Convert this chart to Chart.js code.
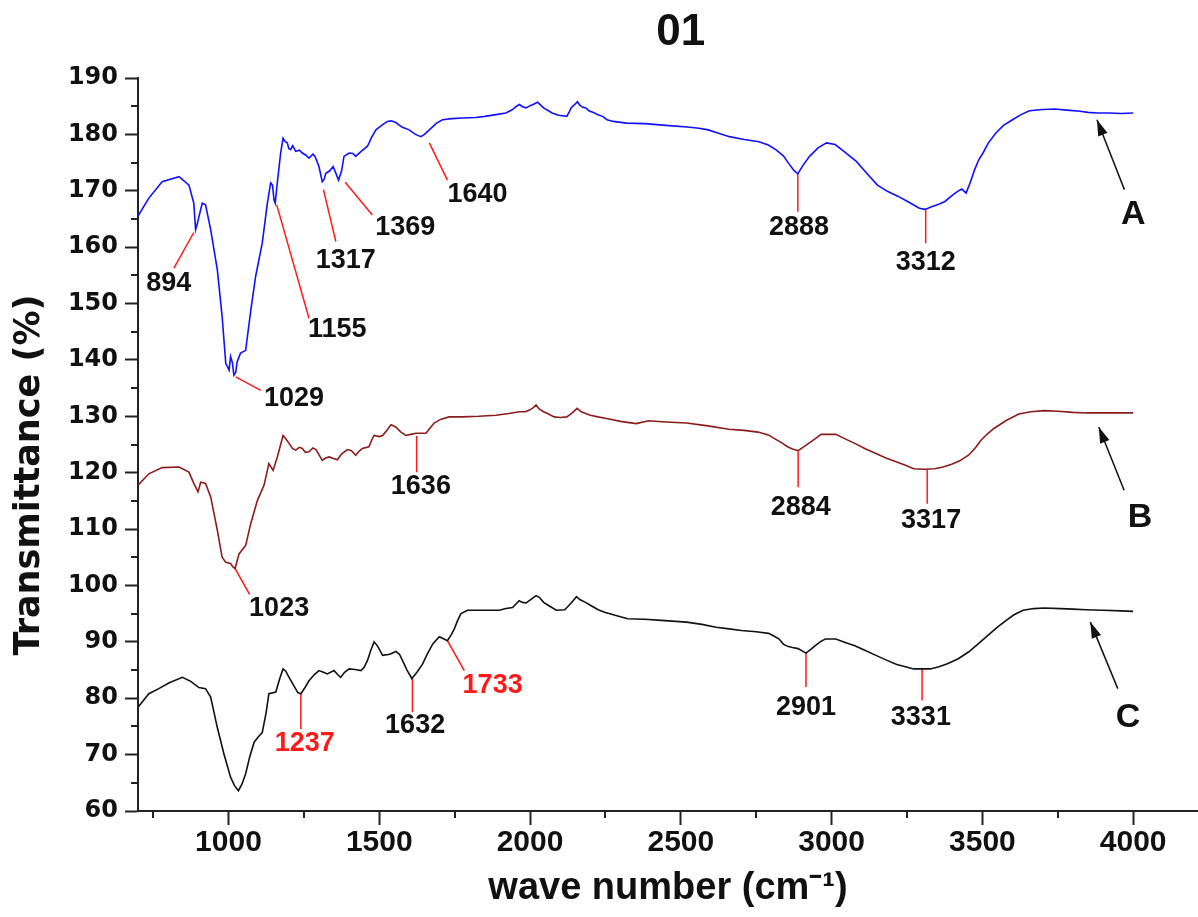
<!DOCTYPE html>
<html>
<head>
<meta charset="utf-8">
<script src="https://cdn.jsdelivr.net/npm/chart.js@4.4.1/dist/chart.umd.min.js"></script>
<style>
    html, body { margin: 0; padding: 0; background: #fff; }
    #Box { width: 1198px; height: 917px; }
</style>
</head>
<body>
<div id="Box"><canvas id="ChFTIR"></canvas></div>
<script>
// spectrum A (blue)
const WaveA = [700, 736, 780, 836, 869, 885, 891, 896, 902, 913, 924, 941, 963, 979, 991, 1002, 1007, 1013, 1018, 1024, 1029, 1040, 1057, 1074, 1090, 1112, 1129, 1140, 1146, 1151, 1155, 1162, 1173, 1181, 1188, 1195, 1200, 1206, 1213, 1223, 1235, 1245, 1257, 1267, 1280, 1287, 1300, 1311, 1317, 1323, 1335, 1347, 1357, 1365, 1375, 1383, 1400, 1413, 1422, 1440, 1461, 1475, 1489, 1510, 1527, 1540, 1555, 1575, 1599, 1620, 1638, 1650, 1666, 1690, 1710, 1740, 1776, 1820, 1850, 1887, 1920, 1942, 1955, 1965, 1975, 1987, 2000, 2010, 2025, 2035, 2045, 2064, 2073, 2095, 2122, 2130, 2136, 2150, 2157, 2165, 2175, 2185, 2195, 2210, 2225, 2241, 2255, 2276, 2320, 2381, 2450, 2521, 2560, 2591, 2620, 2661, 2710, 2759, 2790, 2815, 2840, 2857, 2875, 2888, 2905, 2927, 2955, 2983, 3012, 3045, 3082, 3115, 3152, 3185, 3221, 3255, 3291, 3310, 3334, 3355, 3376, 3398, 3418, 3432, 3446, 3460, 3474, 3488, 3502, 3520, 3544, 3570, 3600, 3628, 3656, 3700, 3740, 3780, 3824, 3850, 3880, 3920, 3960, 4000];
const TransA = [165.5, 168.7, 171.6, 172.5, 171, 167.8, 163.1, 164, 165.4, 167.8, 167.5, 163.1, 156, 147.7, 139.4, 138.2, 140.6, 139.5, 137.3, 137.8, 139.7, 141.2, 141.7, 148.8, 154.8, 160.7, 167.8, 171.4, 171, 168.4, 167.8, 171.4, 176.7, 179.3, 178.7, 178.5, 177.5, 177.3, 178, 177, 177.2, 176.7, 176.3, 175.8, 176.5, 176.1, 174.3, 171.6, 172, 173.1, 173.5, 174.3, 173, 171.9, 173.5, 176.1, 176.7, 176.6, 176.1, 177, 177.9, 179.5, 180.8, 181.7, 182.3, 182.4, 182.1, 181.3, 180.8, 180, 179.6, 180, 180.8, 182, 182.6, 182.8, 182.9, 183, 183.2, 183.5, 183.8, 184.4, 185, 185.3, 184.9, 184.7, 185.1, 185.3, 185.7, 185.2, 184.7, 184.1, 183.8, 183.4, 183.2, 184, 184.7, 185.4, 185.8, 185.2, 184.8, 184.7, 184.2, 183.9, 183.5, 183.2, 182.6, 182.3, 182, 181.9, 181.6, 181.3, 181.1, 180.8, 180.3, 179.6, 179.1, 178.7, 178.1, 177.3, 176.2, 174.9, 173.6, 173, 174.5, 176.1, 177.6, 178.5, 178.2, 176.8, 175.2, 173.2, 171, 169.9, 169, 168, 166.9, 166.7, 167.2, 167.6, 168.1, 169.1, 169.9, 170.3, 169.6, 171.5, 173.7, 175.5, 176.7, 178.5, 180.2, 181.6, 182.6, 183.5, 184.2, 184.4, 184.5, 184.3, 184.1, 183.9, 183.8, 183.8, 183.7, 183.8];

// spectrum B (dark red)
const WaveB = [700, 736, 780, 836, 869, 885, 899, 908, 924, 941, 963, 979, 991, 1007, 1015, 1022, 1035, 1057, 1074, 1096, 1118, 1134, 1148, 1162, 1181, 1190, 1201, 1212, 1223, 1235, 1245, 1255, 1267, 1280, 1290, 1300, 1311, 1322, 1334, 1348, 1361, 1375, 1394, 1408, 1422, 1433, 1444, 1466, 1475, 1483, 1500, 1511, 1525, 1539, 1555, 1570, 1588, 1605, 1622, 1655, 1670, 1682, 1705, 1732, 1776, 1830, 1887, 1930, 1964, 1985, 1998, 2010, 2020, 2030, 2045, 2058, 2080, 2100, 2122, 2140, 2156, 2170, 2184, 2200, 2225, 2254, 2300, 2352, 2393, 2450, 2519, 2590, 2659, 2710, 2756, 2790, 2812, 2835, 2854, 2870, 2889, 2905, 2924, 2945, 2965, 3014, 3045, 3077, 3110, 3147, 3180, 3216, 3245, 3272, 3310, 3342, 3370, 3398, 3425, 3454, 3475, 3496, 3517, 3537, 3580, 3621, 3660, 3705, 3750, 3800, 3844, 3900, 4000];
const TransB = [117.8, 119.8, 120.9, 121, 120.1, 118.1, 116.6, 118.3, 118.1, 115.7, 109.8, 105, 104.1, 103.9, 103.3, 103, 105.6, 107.1, 111, 115.1, 117.8, 121.6, 120.4, 122.8, 126.6, 126, 125.2, 124.3, 124, 124.5, 124.3, 123.6, 123.7, 124.4, 124.1, 123.2, 122.2, 122.6, 122.8, 122.5, 122.3, 123.3, 124.1, 123.9, 123.1, 123.8, 124.3, 124.6, 125.8, 126.6, 126.4, 126.6, 127.5, 128.5, 128.1, 127.3, 126.6, 126.8, 127, 127, 128, 128.8, 129.5, 129.9, 129.9, 130, 130.2, 130.5, 130.8, 130.8, 131.1, 131.5, 132, 131.3, 130.8, 130.5, 129.9, 129.8, 129.9, 130.6, 131.4, 130.8, 130.5, 130.2, 129.9, 129.6, 129.1, 128.7, 129.2, 129, 128.8, 128.3, 127.7, 127.5, 127.2, 126.7, 126, 125.3, 124.6, 124.2, 123.9, 124.5, 125.2, 126, 126.8, 126.8, 126, 125.2, 124.3, 123.4, 122.6, 121.9, 121.3, 120.7, 120.6, 120.7, 121, 121.5, 122.1, 123.1, 124.3, 125.8, 126.9, 127.8, 129.3, 130.4, 130.8, 131, 130.9, 130.7, 130.6, 130.6, 130.6];

// spectrum C (black)
const WaveC = [700, 736, 769, 802, 847, 875, 902, 924, 941, 963, 985, 1007, 1020, 1033, 1045, 1057, 1070, 1085, 1100, 1112, 1125, 1134, 1157, 1170, 1181, 1190, 1201, 1217, 1230, 1240, 1255, 1267, 1285, 1300, 1315, 1328, 1350, 1362, 1372, 1385, 1400, 1420, 1439, 1450, 1461, 1472, 1483, 1495, 1511, 1535, 1555, 1567, 1577, 1592, 1608, 1625, 1643, 1660, 1677, 1699, 1715, 1726, 1738, 1749, 1760, 1771, 1793, 1850, 1898, 1920, 1942, 1964, 1975, 1987, 2000, 2020, 2031, 2045, 2060, 2087, 2115, 2135, 2154, 2165, 2184, 2200, 2226, 2250, 2282, 2324, 2380, 2435, 2519, 2570, 2617, 2660, 2701, 2750, 2791, 2810, 2826, 2840, 2854, 2870, 2889, 2905, 2915, 2932, 2945, 2962, 2979, 3014, 3045, 3077, 3110, 3147, 3180, 3216, 3245, 3272, 3300, 3328, 3356, 3384, 3420, 3454, 3490, 3524, 3550, 3579, 3605, 3635, 3670, 3705, 3760, 3800, 3844, 3900, 3960, 4000];
const TransC = [78.4, 80.8, 81.7, 82.7, 83.7, 83, 81.9, 81.7, 80.2, 74.8, 70.1, 66, 64.5, 63.6, 64.8, 66.6, 69.5, 72.2, 73.2, 73.9, 77.5, 80.8, 81.1, 83.5, 85.2, 84.8, 83.7, 82.2, 81, 80.8, 82, 83.1, 84.2, 84.9, 84.6, 84.3, 84.9, 84.2, 83.7, 84.6, 85.2, 85.1, 84.9, 85.5, 86.7, 88.5, 90, 89.2, 87.6, 87.8, 88.3, 87.8, 86.7, 85, 83.5, 84.6, 86, 87.9, 89.6, 90.9, 90.5, 90.2, 91.2, 92.3, 93.8, 95, 95.6, 95.6, 95.6, 95.9, 96.1, 97.3, 97, 96.9, 97.4, 98.2, 97.9, 97, 96.5, 95.6, 95.7, 96.8, 98, 97.5, 97, 96.5, 95.7, 95.2, 94.7, 94.1, 94, 93.8, 93.5, 93.1, 92.6, 92.3, 92, 91.8, 91.5, 91, 90.5, 89.6, 89.2, 89, 88.8, 88.3, 88, 88.7, 89.3, 90, 90.5, 90.5, 89.9, 89.3, 88.5, 87.6, 86.8, 86, 85.6, 85.2, 85.2, 85.2, 85.6, 86.1, 87, 88.2, 89.8, 91.4, 92.6, 93.8, 94.8, 95.6, 95.9, 96, 95.9, 95.8, 95.7, 95.6, 95.5, 95.4];

// peak marks: text, line from curve to label, label anchor (all in data units)
const MarkText = ['894', '1029', '1155', '1317', '1369', '1640', '2888', '3312', '1023', '1636', '2884', '3317', '1237', '1632', '1733', '2901', '3331'];
const MarkFrom = [[885, 162.6], [1024, 137], [1160, 167.5], [1315, 170.2], [1387, 171.5], [1666, 178.5], [2888, 173], [3312, 166.7], [1022, 103], [1624, 126.5], [2889, 123.8], [3317, 120.5], [1240, 80.8], [1610, 83.6], [1726, 90.2], [2915, 88], [3300, 85.3]];
const MarkTo = [[819, 156.3], [1107, 134.6], [1267, 147.4], [1356, 161], [1477, 165.7], [1726, 171.9], [2888, 166.3], [3312, 160.7], [1070, 98.4], [1624, 120.1], [2889, 117.4], [3317, 114.5], [1240, 74.5], [1610, 77.5], [1782, 84.9], [2915, 82], [3300, 79.6]];
const MarkAt = [[802, 153.6], [1217, 133.2], [1361, 145.3], [1389, 157.7], [1586, 163.4], [1826, 169.4], [2892, 163.4], [3312, 157.2], [1168, 95.9], [1638, 117.5], [2898, 113.9], [3330, 111.5], [1253, 71.9], [1619, 75.1], [1876, 82.2], [2915, 78.4], [3296, 76.6]];
const RedText = ['1237', '1733'];

// curve names with arrows
const ArrowText = ['A', 'B', 'C'];
const ArrowTail = [[3971, 170.2], [3970, 116.9], [3949, 81.7]];
const ArrowTip = [[3880, 182.6], [3886, 128.1], [3858, 93.5]];
const ArrowAt = [[4000, 165.7], [4023, 112.1], [3983, 76.6]];

// axis ticks
const XTicks = [1000, 1500, 2000, 2500, 3000, 3500, 4000];
const XMinor = [750, 1250, 1750, 2250, 2750, 3250, 3750];
const YMinor = [65, 75, 85, 95, 105, 115, 125, 135, 145, 155, 165, 175, 185];
const TitleText = '01';
const TitleAt = 2500;

const ToPoints = (Xs, Ys) => Xs.map((x, i) => ({ x: x, y: Ys[i] }));

const Datasets = [
    { data: ToPoints(WaveA, TransA), borderColor: '#1010ff', borderWidth: 1.6 },
    { data: ToPoints(WaveB, TransB), borderColor: '#8b1c1c', borderWidth: 1.6 },
    { data: ToPoints(WaveC, TransC), borderColor: '#111111', borderWidth: 1.6 }
];

MarkText.forEach((t, i) => {
    Datasets.push({
        data: [{ x: MarkFrom[i][0], y: MarkFrom[i][1] }, { x: MarkTo[i][0], y: MarkTo[i][1] }],
        borderColor: '#ff1a1a',
        borderWidth: 1.5
    });
});

ArrowText.forEach((t, i) => {
    Datasets.push({
        data: [{ x: ArrowTail[i][0], y: ArrowTail[i][1] }, { x: ArrowTip[i][0], y: ArrowTip[i][1] }],
        borderColor: '#111111',
        borderWidth: 1.5
    });
});

const Decor = {
    id: 'decor',
    afterDatasetsDraw(chart) {
        const ctx = chart.ctx;
        const Sx = chart.scales.x;
        const Sy = chart.scales.y;
        const area = chart.chartArea;
        ctx.save();

        // minor ticks
        ctx.strokeStyle = '#222';
        ctx.lineWidth = 2;
        XMinor.forEach((v) => {
            const px = Math.round(Sx.getPixelForValue(v));
            ctx.beginPath();
            ctx.moveTo(px, area.bottom);
            ctx.lineTo(px, area.bottom + 7);
            ctx.stroke();
        });
        YMinor.forEach((v) => {
            const py = Math.round(Sy.getPixelForValue(v));
            ctx.beginPath();
            ctx.moveTo(area.left, py);
            ctx.lineTo(area.left - 7, py);
            ctx.stroke();
        });

        // peak labels
        ctx.textAlign = 'center';
        ctx.textBaseline = 'middle';
        ctx.font = 'bold 27px "Liberation Sans", Arial, sans-serif';
        MarkText.forEach((t, i) => {
            ctx.fillStyle = RedText.includes(t) ? '#ff1a1a' : '#111';
            ctx.fillText(t, Sx.getPixelForValue(MarkAt[i][0]), Sy.getPixelForValue(MarkAt[i][1]));
        });

        // arrow heads and curve names
        ctx.fillStyle = '#111';
        ArrowText.forEach((t, i) => {
            const x0 = Sx.getPixelForValue(ArrowTail[i][0]);
            const y0 = Sy.getPixelForValue(ArrowTail[i][1]);
            const x1 = Sx.getPixelForValue(ArrowTip[i][0]);
            const y1 = Sy.getPixelForValue(ArrowTip[i][1]);
            const a = Math.atan2(y1 - y0, x1 - x0);
            ctx.beginPath();
            ctx.moveTo(x1, y1);
            ctx.lineTo(x1 - 16 * Math.cos(a) + 5 * Math.sin(a), y1 - 16 * Math.sin(a) - 5 * Math.cos(a));
            ctx.lineTo(x1 - 16 * Math.cos(a) - 5 * Math.sin(a), y1 - 16 * Math.sin(a) + 5 * Math.cos(a));
            ctx.closePath();
            ctx.fill();
        });
        ctx.font = 'bold 34px "Liberation Sans", Arial, sans-serif';
        ArrowText.forEach((t, i) => {
            ctx.fillText(t, Sx.getPixelForValue(ArrowAt[i][0]), Sy.getPixelForValue(ArrowAt[i][1]));
        });

        // chart title
        ctx.font = 'bold 44px "Liberation Sans", Arial, sans-serif';
        ctx.fillText(TitleText, Sx.getPixelForValue(TitleAt), 33);

        ctx.restore();
    }
};

const ctx = document.getElementById('ChFTIR');
const ChFTIR = new Chart(ctx, {
    type: 'line',
    data: { datasets: Datasets },
    plugins: [Decor],
    options: {
        responsive: true,
        maintainAspectRatio: false,
        animation: false,
        layout: { padding: { top: 78, right: 0, bottom: 0, left: 0 } },
        elements: {
            point: { radius: 0 },
            line: { tension: 0, fill: false }
        },
        plugins: {
            legend: { display: false },
            tooltip: { enabled: false }
        },
        scales: {
            x: {
                type: 'linear',
                min: 700,
                max: 4215,
                afterBuildTicks: (s) => { s.ticks = XTicks.map((v) => ({ value: v })); },
                afterFit: (s) => { s.height = 106; },
                ticks: {
                    autoSkip: false,
                    maxRotation: 0,
                    padding: 0,
                    color: '#111',
                    callback: (v) => String(v),
                    font: { family: '"Liberation Sans", Arial, sans-serif', size: 30, weight: 'bold' }
                },
                grid: { drawOnChartArea: false, tickLength: 14, tickWidth: 2, tickColor: '#222' },
                border: { color: '#222', width: 2 },
                title: {
                    display: true,
                    text: 'wave number (cm\u207B\u00B9)',
                    color: '#111',
                    padding: { top: 0, bottom: 6 },
                    font: { family: '"Liberation Sans", Arial, sans-serif', size: 38, weight: 'bold' }
                }
            },
            y: {
                min: 60,
                max: 190,
                afterFit: (s) => { s.width = 138; },
                ticks: {
                    stepSize: 10,
                    padding: 7,
                    color: '#111',
                    font: { family: '"DejaVu Sans", sans-serif', size: 24, weight: 'bold' }
                },
                grid: { drawOnChartArea: false, tickLength: 13, tickWidth: 2, tickColor: '#222' },
                border: { color: '#222', width: 2 },
                title: {
                    display: true,
                    text: 'Transmittance (%)     ',
                    color: '#111',
                    padding: { top: 9, bottom: 0 },
                    font: { family: '"DejaVu Sans", sans-serif', size: 35, weight: 'bold' }
                }
            }
        }
    }
});
</script>
</body>
</html>
